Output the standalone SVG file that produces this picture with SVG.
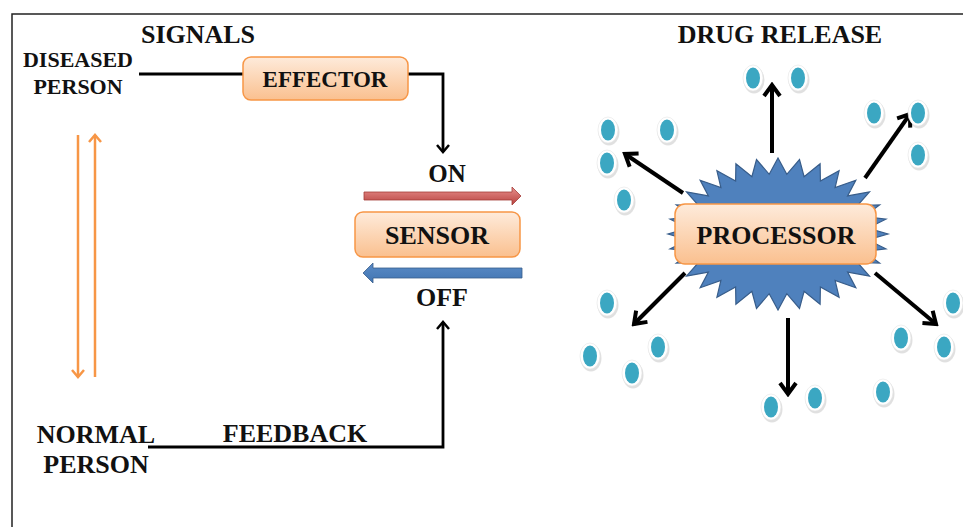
<svg xmlns="http://www.w3.org/2000/svg" xmlns:xlink="http://www.w3.org/1999/xlink" width="963" height="527" viewBox="0 0 963 527">
<style>
text{font-family:"Liberation Serif","Times New Roman",serif;font-weight:bold;fill:#111;text-anchor:middle}
.box{fill:url(#boxGrad);stroke:#F79646;stroke-width:1.5}
.blk{fill:none;stroke:#000;stroke-width:4}
.thin{fill:none;stroke:#000;stroke-width:2.8}
.org{fill:none;stroke:#F79646;stroke-width:2.5}
</style>
<defs>
<linearGradient id="boxGrad" x1="0" y1="0" x2="0" y2="1">
<stop offset="0" stop-color="#FEEBDB"/>
<stop offset="1" stop-color="#FAC08F"/>
</linearGradient>
<linearGradient id="redGrad" x1="0" y1="0" x2="0" y2="1">
<stop offset="0" stop-color="#E8908D"/>
<stop offset="1" stop-color="#B8423F"/>
</linearGradient>
<linearGradient id="blueGrad" x1="0" y1="0" x2="0" y2="1">
<stop offset="0" stop-color="#5A8BC6"/>
<stop offset="1" stop-color="#4275B2"/>
</linearGradient>
<marker id="hBig" viewBox="-14 -11 17 22" markerWidth="17" markerHeight="22" refX="0" refY="0" orient="auto" markerUnits="userSpaceOnUse">
<path d="M-11,-8 L0,0 L-11,8" fill="none" stroke="#000" stroke-width="4"/>
</marker>
<marker id="hThin" viewBox="-10 -8 12 16" markerWidth="12" markerHeight="16" refX="0" refY="0" orient="auto" markerUnits="userSpaceOnUse">
<path d="M-7,-6 L0,0 L-7,6" fill="none" stroke="#000" stroke-width="2.5"/>
</marker>
<marker id="hOrg" viewBox="-10 -8 12 16" markerWidth="12" markerHeight="16" refX="0" refY="0" orient="auto" markerUnits="userSpaceOnUse">
<path d="M-7,-6 L0,0 L-7,6" fill="none" stroke="#F79646" stroke-width="2.5"/>
</marker>
<g id="drop">
<ellipse cx="1" cy="2" rx="10.5" ry="13.5" fill="#000" opacity="0.12"/>
<ellipse cx="0" cy="0" rx="10" ry="13" fill="#fff" stroke="#e4e4e4" stroke-width="0.6"/>
<ellipse cx="0" cy="0" rx="7" ry="10.5" fill="#3BA7C2"/>
</g>
</defs>
<rect width="963" height="527" fill="#fff"/>
<!-- frame -->
<path d="M12,527 L12,14 L963,14" fill="none" stroke="#222" stroke-width="1.5"/>

<g id="connectors">
<path class="thin" d="M139,74 L243,74"/>
<path class="thin" d="M408,74 L443,74 L443,152" marker-end="url(#hThin)"/>
<path class="thin" d="M148,447 L443,447 L443,322" marker-end="url(#hThin)"/>
<path class="org" d="M78,135 L78,377" marker-end="url(#hOrg)"/>
<path class="org" d="M95,377 L95,135" marker-end="url(#hOrg)"/>
<path d="M364,192 L512,192 L512,187 L521,196 L512,205 L512,200 L364,200 Z" fill="url(#redGrad)" stroke="#A33C39" stroke-width="0.8"/>
<path d="M522,268 L373,268 L373,263 L363,273 L373,283 L373,278 L522,278 Z" fill="url(#blueGrad)" stroke="#385D8A" stroke-width="0.8"/>
<path class="blk" d="M772,153 L772,85" marker-end="url(#hBig)"/>
<path class="blk" d="M683,193 L625,154" marker-end="url(#hBig)"/>
<path class="blk" d="M865,178 L910,114" marker-end="url(#hBig)"/>
<path class="blk" d="M685,273 L634,324" marker-end="url(#hBig)"/>
<path class="blk" d="M788,318 L788,394" marker-end="url(#hBig)"/>
<path class="blk" d="M875,273 L936,324" marker-end="url(#hBig)"/>
</g>

<g id="signals"><text x="198" y="43" font-size="26">SIGNALS</text></g>
<g id="diseased-person">
<text x="78" y="67" font-size="22">DISEASED</text>
<text x="78" y="94" font-size="22">PERSON</text>
</g>
<g id="normal-person">
<text x="96" y="443" font-size="26">NORMAL</text>
<text x="96" y="473" font-size="26">PERSON</text>
</g>
<g id="feedback"><text x="295" y="442" font-size="26">FEEDBACK</text></g>
<g id="effector">
<rect class="box" x="243" y="57" width="165" height="43" rx="8"/>
<text x="325" y="87" font-size="23">EFFECTOR</text>
</g>
<g id="on"><text x="447" y="182" font-size="25">ON</text></g>
<g id="sensor">
<rect class="box" x="355" y="212" width="165" height="45" rx="8"/>
<text x="437" y="244" font-size="26">SENSOR</text>
</g>
<g id="off"><text x="442" y="306" font-size="26">OFF</text></g>
<g id="drug-release"><text x="780" y="43" font-size="26">DRUG RELEASE</text></g>

<g id="processor">
<polygon fill="#4F81BD" stroke="#385D8A" stroke-width="1.2" points="778,158 786.8,174.3 799.5,159.5 804.1,176.6 820.1,163.8 820.4,181.1 839.1,170.8 835.1,187.6 855.8,180.3 847.6,195.9 869.5,191.8 857.4,205.7 879.6,204.9 864.1,216.6 885.9,219.2 867.6,228.1 888,234 867.6,239.9 885.9,248.8 864.1,251.4 879.6,263.1 857.4,262.3 869.5,276.2 847.6,272.1 855.8,287.7 835.1,280.4 839.1,297.2 820.4,286.9 820.1,304.2 804.1,291.4 799.5,308.5 786.8,293.7 778,310 769.2,293.7 756.5,308.5 751.9,291.4 735.9,304.2 735.6,286.9 716.9,297.2 720.9,280.4 700.2,287.7 708.4,272.1 686.5,276.2 698.6,262.3 676.4,263.1 691.9,251.4 670.1,248.8 688.4,239.9 668,234 688.4,228.1 670.1,219.2 691.9,216.6 676.4,204.9 698.6,205.7 686.5,191.8 708.4,195.9 700.2,180.3 720.9,187.6 716.9,170.8 735.6,181.1 735.9,163.8 751.9,176.6 756.5,159.5 769.2,174.3"/>
<rect class="box" x="675" y="204" width="201" height="60" rx="10"/>
<text x="776" y="244" font-size="26">PROCESSOR</text>
</g>

<g id="drops">
<use xlink:href="#drop" x="753" y="78"/>
<use xlink:href="#drop" x="798" y="78"/>
<use xlink:href="#drop" x="608" y="130"/>
<use xlink:href="#drop" x="667" y="130"/>
<use xlink:href="#drop" x="607" y="163"/>
<use xlink:href="#drop" x="624" y="200"/>
<use xlink:href="#drop" x="874" y="113"/>
<use xlink:href="#drop" x="918" y="113"/>
<use xlink:href="#drop" x="918" y="155"/>
<use xlink:href="#drop" x="607" y="303"/>
<use xlink:href="#drop" x="590" y="356"/>
<use xlink:href="#drop" x="632" y="373"/>
<use xlink:href="#drop" x="658" y="347"/>
<use xlink:href="#drop" x="771" y="407"/>
<use xlink:href="#drop" x="815" y="398"/>
<use xlink:href="#drop" x="883" y="392"/>
<use xlink:href="#drop" x="901" y="338"/>
<use xlink:href="#drop" x="944" y="347"/>
<use xlink:href="#drop" x="953" y="303"/>
</g>
</svg>
